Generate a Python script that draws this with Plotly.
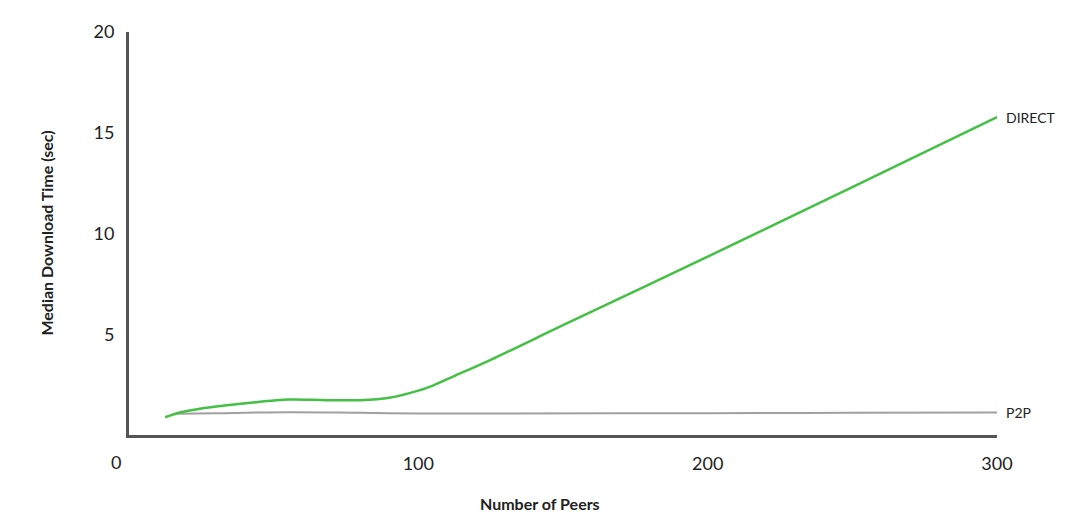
import plotly.graph_objects as go

# Data
direct_x = [12.5, 17.5, 25, 33, 42, 55, 68, 80, 90, 100, 105, 112, 125, 150, 200, 250, 300]
direct_y = [0.88, 1.12, 1.32, 1.46, 1.6, 1.76, 1.73, 1.73, 1.85, 2.2, 2.45, 2.9, 3.73, 5.45, 8.85, 12.3, 15.78]

p2p_x = [16.5, 30, 55, 80, 100, 125, 200, 250, 300]
p2p_y = [1.05, 1.08, 1.13, 1.1, 1.07, 1.07, 1.08, 1.1, 1.12]

x_ticks = [100, 200, 300]
y_ticks = [5, 10, 15, 20]
x_origin_label = "0"

FONT = "Lato"

fig = go.Figure()
fig.add_trace(go.Scatter(x=p2p_x, y=p2p_y, mode="lines", name="P2P",
                         line=dict(color="#a0a0a0", width=2, shape="spline", smoothing=1.0),
                         hoverinfo="skip"))
fig.add_trace(go.Scatter(x=direct_x, y=direct_y, mode="lines", name="DIRECT",
                         line=dict(color="#44c044", width=2.5, shape="spline", smoothing=0.8),
                         hoverinfo="skip"))

fig.add_annotation(x=direct_x[-1], y=direct_y[-1], text="DIRECT", showarrow=False,
                   xanchor="left", yanchor="middle", xshift=7,
                   font=dict(family=FONT, size=14, color="#222"))
fig.add_annotation(x=p2p_x[-1], y=p2p_y[-1], text="P2P", showarrow=False,
                   xanchor="left", yanchor="middle", xshift=7,
                   font=dict(family=FONT, size=14, color="#222"))

# origin "0" label sits a little left of the axis in the reference
fig.add_annotation(x=0, y=0, text=x_origin_label, showarrow=False,
                   xanchor="center", yanchor="top", xshift=-13, yshift=-14,
                   font=dict(family=FONT, size=18, color="#222"))

fig.add_annotation(x=0.474, y=-0.169, xref="paper", yref="paper", text="<b>Number of Peers</b>",
                   showarrow=False, xanchor="center", yanchor="middle",
                   font=dict(family=FONT, size=16, color="#222"))
fig.add_annotation(x=-0.0955, y=0.5, xref="paper", yref="paper",
                   text="<b>Median Download Time (sec)</b>", textangle=-90,
                   showarrow=False, xanchor="center", yanchor="middle",
                   font=dict(family=FONT, size=16, color="#222"))

fig.update_layout(
    width=1057, height=517,
    margin=dict(l=121, r=68, t=20, b=90, pad=0),
    paper_bgcolor="white", plot_bgcolor="white",
    showlegend=False,
    font=dict(family=FONT, size=18, color="#222"),
    xaxis=dict(range=[0, 300], tickvals=x_ticks, ticktext=[str(v) for v in x_ticks],
               showgrid=False, zeroline=False, showline=True, linecolor="#555", linewidth=3,
               ticks="", ticklabelstandoff=10, fixedrange=True),
    yaxis=dict(range=[0, 20], tickvals=y_ticks, ticktext=[str(v) for v in y_ticks],
               showgrid=False, zeroline=False, showline=True, linecolor="#555", linewidth=3,
               ticks="", ticklabelstandoff=8, fixedrange=True),
)

fig.write_html("out.html")
